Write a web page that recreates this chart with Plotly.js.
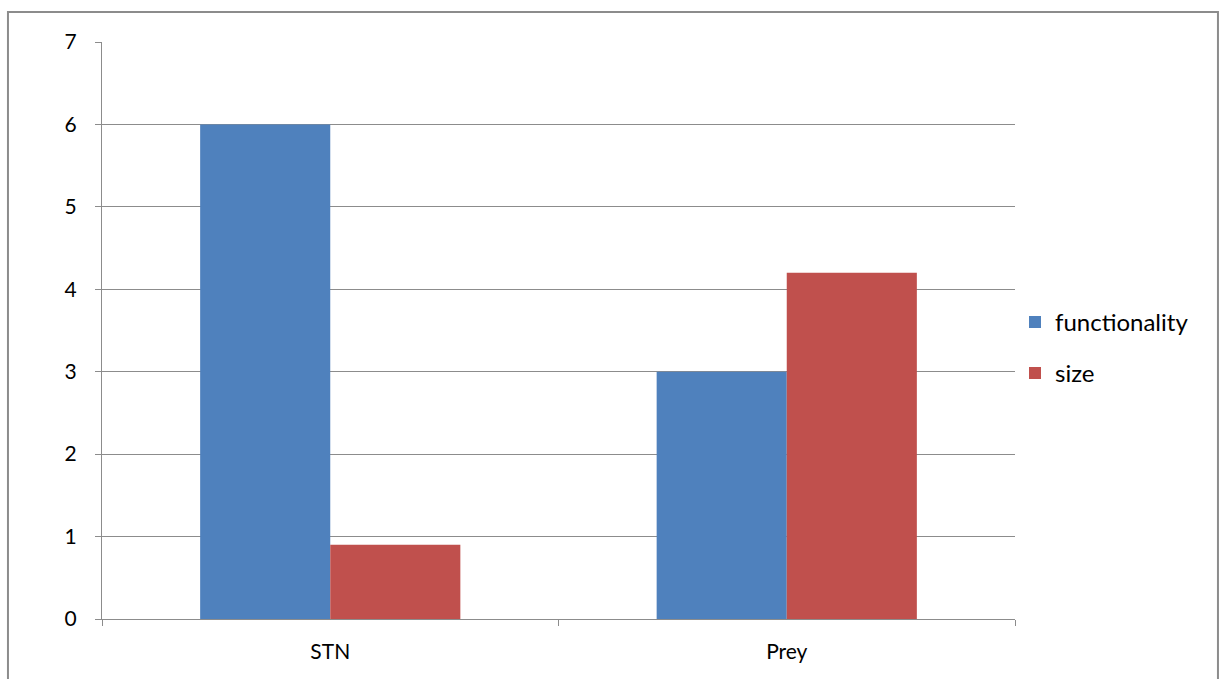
<!DOCTYPE html>
<html><head><meta charset="utf-8">
<script src="https://cdn.plot.ly/plotly-3.0.1.min.js"></script>
<style>html,body{margin:0;padding:0;background:#fff}#chart{width:1225px;height:679px}</style>
</head><body><div id="chart"></div>
<script>
const categories = ["STN", "Prey"];
const functionality = [6, 3];
const size = [0.9, 4.2];
const seriesNames = ["functionality", "size"];
const yTicks = [0, 1, 2, 3, 4, 5, 6, 7];

const font = {family: "Lato, 'Open Sans', sans-serif", size: 21, color: "#000"};
const traces = [
  {type: "bar", x: categories, y: functionality, name: seriesNames[0], legendgroup: "a",
   marker: {color: "#4F81BD", line: {width: 0}}},
  {type: "bar", x: categories, y: size, name: seriesNames[1], legendgroup: "b",
   marker: {color: "#C0504D", line: {width: 0}}}
];
const layout = {
  width: 1225, height: 679,
  margin: {l: 102, r: 210, t: 42, b: 60},
  paper_bgcolor: "#fff", plot_bgcolor: "#fff",
  font: font,
  barmode: "group", bargap: 0.43, bargroupgap: 0,
  xaxis: {type: "category", showgrid: false, showline: true, linecolor: "#8c8c8c", linewidth: 1,
          ticks: "outside", tickson: "boundaries", ticklen: 6, tickcolor: "#8c8c8c",
          tickfont: {size: 21}, zeroline: false, ticklabelstandoff: 14},
  yaxis: {range: [0, 7], tickvals: yTicks, showgrid: true, gridcolor: "#8c8c8c", gridwidth: 1,
          showline: true, linecolor: "#8c8c8c", linewidth: 1, ticks: "outside", ticklen: 6,
          tickcolor: "#8c8c8c", tickfont: {size: 21}, zeroline: false, ticklabelstandoff: 14},
  legend: {x: 1.0, y: 0.47, xanchor: "left", yanchor: "middle", font: {size: 24},
           traceorder: "grouped", tracegroupgap: 17, itemwidth: 30, bgcolor: "rgba(0,0,0,0)"},
  shapes: [{type: "rect", xref: "paper", yref: "paper", x0: -0.103, x1: 1.2223, y0: -0.3, y1: 1.052,
            line: {color: "#8c8c8c", width: 2}, layer: "below"}]
};
Plotly.newPlot("chart", traces, layout, {displayModeBar: false, staticPlot: true});
</script></body></html>
